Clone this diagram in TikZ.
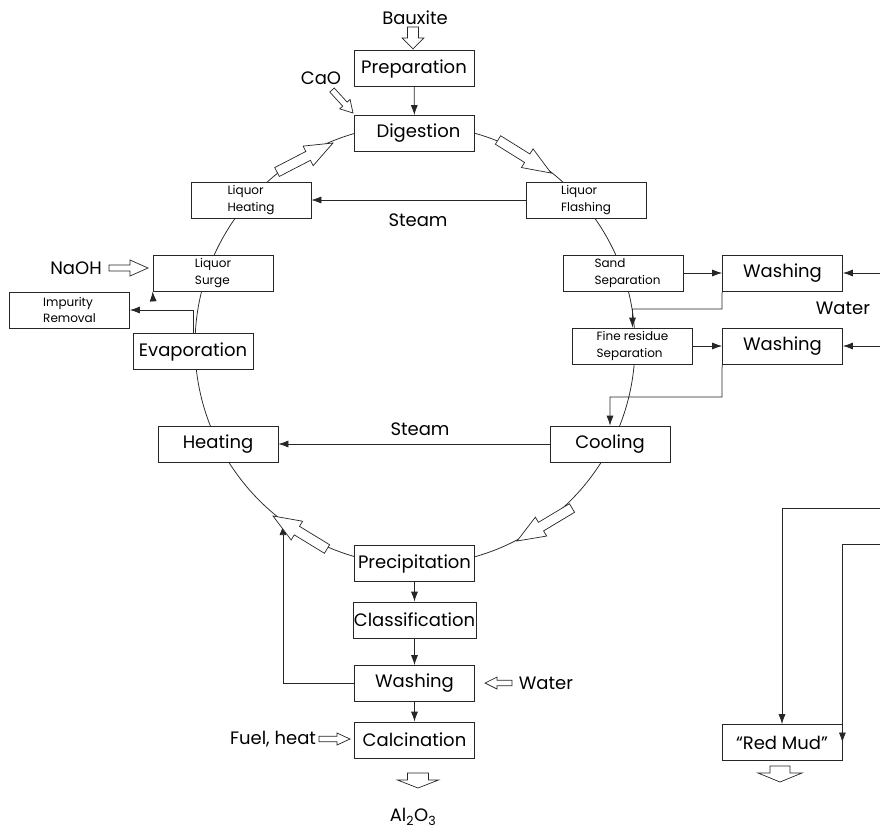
\documentclass[tikz,border=0pt]{standalone}
\usepackage{fontspec}
\setmainfont{Poppins}
\usetikzlibrary{arrows.meta,calc}
\newcommand{\bigf}{\fontsize{18}{22}\selectfont}
\newcommand{\smf}{\fontsize{12}{16.5}\selectfont}
\newcommand{\blockarr}[5]{%
 \coordinate (bahc) at ($(#2)!#5!(#1)$);
 \draw[hollow] ($(#1)!#3!90:(#2)$) -- ($(bahc)!#3!90:(#2)$) -- ($(bahc)!#4!90:(#2)$) -- (#2) -- ($(bahc)!#4!-90:(#2)$) -- ($(bahc)!#3!-90:(#2)$) -- ($(#1)!#3!-90:(#2)$) -- cycle;}
\tikzset{
 box/.style={draw, fill=white, minimum width=120pt, minimum height=36pt, inner sep=1pt, font=\bigf},
 sbox/.style={box, font=\smf, align=left},
 lbl/.style={inner sep=0pt, font=\bigf},
 conn/.style={-{Latex[length=10pt,width=7pt]}},
 hollow/.style={draw, fill=white, line width=0.7pt, line join=miter},
}
\begin{document}
\begin{tikzpicture}[x=1pt, y=-1pt, line width=0.75pt, draw=black!85]
\useasboundingbox (0,0) rectangle (880,831);
% cycle
\draw (415,345) circle (220pt);
% boxes
\node[box] (prep) at (414,68.5) {Preparation};
\node[box] (dig) at (414.5,133.5) {\hspace{8pt}Digestion};
\node[sbox] (lh) at (251,200) {Liquor\\Heating};
\node[sbox] (lf) at (586,200) {Liquor\\Flashing};
\node[sbox] (ls) at (213,273) {Liquor\\Surge};
\node[sbox] (ss) at (623.5,273) {\hspace{8pt}Sand\\\hspace{8pt}Separation};
\node[box] (w1) at (782.5,273) {Washing};
\node[sbox] (ir) at (69.5,310) {Impurity\\Removal};
\node[box] (ev) at (193,351.5) {Evaporation};
\node[sbox] (fr) at (632.5,346) {Fine residue\\Separation};
\node[box] (w2) at (782.5,346) {Washing};
\node[box] (ht) at (218,444) {Heating};
\node[box] (cl) at (610,444) {Cooling};
\node[box] (pr) at (414.5,563.5) {Precipitation};
\node[box] (cf) at (414.5,620) {Classification};
\node[box] (w3) at (414.5,683.5) {Washing};
\node[box] (ca) at (414.5,740) {Calcination};
\node[box] (rm) at (782,742.5) {“Red Mud”};
% labels
\node[lbl] (bx) at (415,18) {Bauxite};
\node[lbl] (cao) at (321,78) {CaO};
\node[lbl] (naoh) at (76,268) {NaOH};
\node[lbl] (st1) at (418,220) {Steam};
\node[lbl] (st2) at (420,429) {Steam};
\node[lbl] (wa1) at (843,308) {Water};
\node[lbl] (wa2) at (546,683) {Water};
\node[lbl] (fh) at (273,739) {Fuel, heat};
\node[lbl] (al) at (413,817) {Al\textsubscript{2}O\textsubscript{3}};
% free-end coordinates
\coordinate (e1) at (880,273);
\coordinate (e2) at (880,346);
\coordinate (e3) at (880,508);
\coordinate (e4) at (880,544);
\coordinate (k1) at (722,309);
\coordinate (k2) at (722,397);
\coordinate (irtop) at (153,298);
\coordinate (back) at (283,525);
% connectors
\draw[conn] (prep) -- (dig);
\draw[conn] (lf) -- (lh);
\draw[conn] (ss) -- (w1);
\draw[conn] (e1) -- (w1);
\draw[conn] (fr) -- (w2);
\draw[conn] (e2) -- (w2);
\draw[conn] (w1.south west) -- (k1) -| (fr.north);
\draw[conn] (w2.south west) -- (k2) -| (cl.north);
\draw[conn] (cl) -- (ht);
\draw[conn] (pr) -- (cf);
\draw[conn] (cf) -- (w3);
\draw[conn] (w3) -- (ca);
\draw[conn] (w3.west) -| (back);
\draw[conn] (ev.north) |- (ir.east);
\draw[conn] (irtop) -- (ls.south west);
\draw[conn] (e3) -| (rm.north);
\draw[conn] (e4) -| (rm.east);
% hollow arrows on the cycle
\coordinate (a1t) at (277,172); \coordinate (a1h) at (333,143);
\coordinate (a2t) at (498,140); \coordinate (a2h) at (551,173);
\coordinate (a3t) at (572,508); \coordinate (a3h) at (517,541);
\coordinate (a4t) at (327,549); \coordinate (a4h) at (273,516);
\blockarr{a1t}{a1h}{5pt}{11pt}{28pt}
\blockarr{a2t}{a2h}{5pt}{11pt}{28pt}
\blockarr{a3t}{a3h}{5pt}{11pt}{28pt}
\blockarr{a4t}{a4h}{5pt}{11pt}{28pt}
% input / output hollow arrows
\coordinate (b1t) at (413,27); \coordinate (b1h) at (413,49);
\blockarr{b1t}{b1h}{5.5pt}{10.8pt}{11pt}
\coordinate (b2t) at (332,90); \coordinate (b2h) at (353,113);
\blockarr{b2t}{b2h}{3pt}{7pt}{12pt}
\coordinate (b3t) at (109,268); \coordinate (b3h) at (148,268);
\blockarr{b3t}{b3h}{3pt}{8pt}{18pt}
\coordinate (b4t) at (512,683); \coordinate (b4h) at (485,683);
\blockarr{b4t}{b4h}{2.8pt}{6pt}{12pt}
\coordinate (b5t) at (319,739); \coordinate (b5h) at (350,739);
\blockarr{b5t}{b5h}{2.8pt}{6pt}{13pt}
\coordinate (b6t) at (418,773); \coordinate (b6h) at (418,788);
\blockarr{b6t}{b6h}{10.5pt}{20.5pt}{8pt}
\coordinate (b7t) at (780,766); \coordinate (b7h) at (780,782);
\blockarr{b7t}{b7h}{10pt}{22pt}{9pt}
\end{tikzpicture}
\end{document}
